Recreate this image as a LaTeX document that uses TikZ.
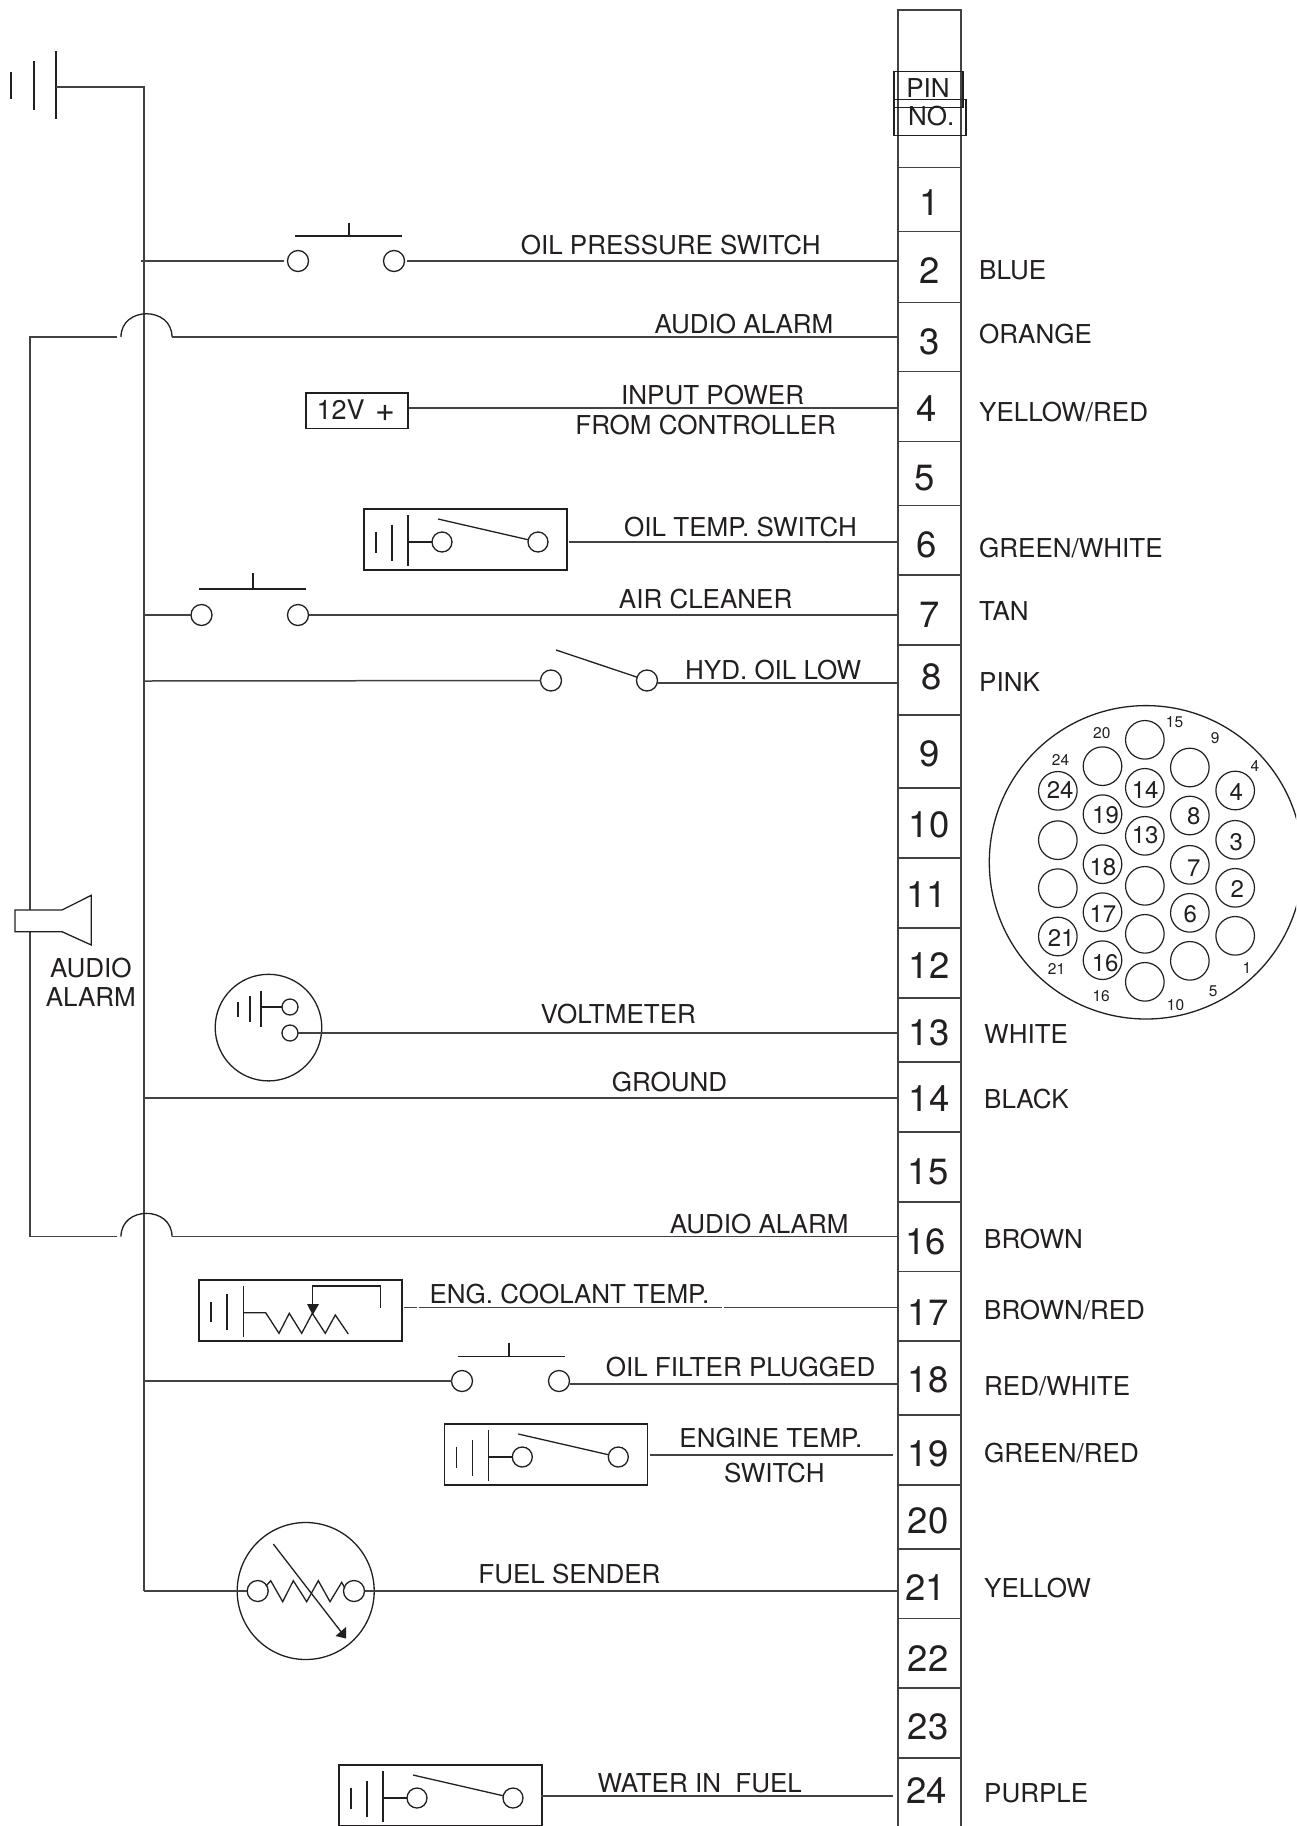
\documentclass[tikz,border=0pt]{standalone}
\usepackage{fontspec}
\setmainfont{TeX Gyre Heros}
\usetikzlibrary{arrows.meta}
\definecolor{ink}{HTML}{231F20}
\tikzset{
  wire/.style={line width=1.5pt,draw=ink!85},
  thin wire/.style={line width=1.3pt,draw=ink},
  term/.style={circle,draw=ink,line width=1.3pt,fill=white,minimum size=21pt,inner sep=0pt,outer sep=0pt},
  pincell/.style={rectangle,draw=ink!85,line width=1.5pt,minimum width=63pt,inner sep=0pt,outer sep=0pt},
  lab/.style={anchor=base,inner sep=0pt,text=ink,font=\fontsize{26}{26}\selectfont},
  collab/.style={anchor=base west,inner sep=0pt,text=ink,font=\fontsize{26}{26}\selectfont},
  numlab/.style={anchor=base,inner sep=0pt,text=ink,font=\fontsize{36.5}{36.5}\selectfont},
  connpin/.style={circle,draw=ink,line width=1.2pt,minimum size=38.6pt,inner sep=0pt,outer sep=0pt},
  pintext/.style={anchor=center,inner sep=0pt,text=ink,font=\fontsize{24}{24}\selectfont},
  tiny/.style={anchor=center,inner sep=0pt,text=ink,font=\fontsize{15.5}{15.5}\selectfont},
  compbox/.style={rectangle,draw=ink,line width=1.5pt,minimum width=203pt,minimum height=61pt,inner sep=0pt,outer sep=0pt},
  boxl/.style={rectangle,draw=ink,line width=1.2pt,inner sep=0pt,outer sep=0pt},
}
\newcommand{\pincellat}[3]{\node[pincell,minimum height={(#3-#2)*1pt}] (p#1) at (929.5,{(#2+#3)/2}) {};}
\newcommand{\pinnum}[3]{\node[numlab] (n#1) at ({#2*1.1644},{#3*1.1644+13}) {#1};}
\newcommand{\wlab}[4]{\node[lab] (#1) at ({#2*1.1644},{#3*1.1644+9.5}) {#4};}
\newcommand{\clab}[4]{\node[collab] (#1) at (#2,{#3+9.5}) {#4};}
\newcommand{\cpin}[6]{\node[connpin] (c#1) at ({961.5+#2/3},{680.5+#3/3}) {};
  \node[pintext] (ct#1) at ({961.5+#4/3},{680.5+#5/3}) {#6};}
\newcommand{\cblank}[3]{\node[connpin] (c#1) at ({961.5+#2/3},{680.5+#3/3}) {};}
\newcommand{\ctiny}[4]{\node[tiny] (ctn#1) at ({961.5+#2/3},{680.5+#3/3}) {#4};}
\newcommand{\batt}[2]{\draw[thin wire] ({#1},{#2-10.5}) -- ({#1},{#2+10.5});
  \draw[thin wire] ({#1+16},{#2-17.5}) -- ({#1+16},{#2+18.5});
  \draw[thin wire] ({#1+32},{#2-27}) -- ({#1+32},{#2+24});}
\newcommand{\tempsw}[3]{%
  \node[compbox] (#1box) at ({465.5+#2},{539.5+#3}) {};
  \batt{376+#2}{542+#3}
  \node[term,minimum size=20pt] (#1a) at ({442+#2},{542+#3}) {};
  \node[term,minimum size=20pt] (#1b) at ({538+#2},{542+#3}) {};
  \draw[thin wire] ({408+#2},{542+#3}) -- (#1a);
  \draw[thin wire] ({438+#2},{519+#3}) -- (#1b);
}
\begin{document}
\begin{tikzpicture}[x=1pt,y=-1pt]
\useasboundingbox (0,0) rectangle (1296,1826);
\clip (0,0) rectangle (1296,1826);
\fill[white] (0,0) rectangle (1296,1826);

% --- pin strip
\node[pincell,minimum height=157.7pt] (ptop) at (929.5,88.85) {};
\pincellat{1}{167.7}{231.7}
\pincellat{2}{231.7}{302.7}
\pincellat{3}{302.7}{371.4}
\pincellat{4}{371.4}{441.3}
\pincellat{5}{441.3}{505.3}
\pincellat{6}{505.3}{575.2}
\pincellat{7}{575.2}{645}
\pincellat{8}{645}{715}
\pincellat{9}{715}{788}
\pincellat{10}{788}{858}
\pincellat{11}{858}{928}
\pincellat{12}{928}{998}
\pincellat{13}{998}{1062}
\pincellat{14}{1062}{1132}
\pincellat{15}{1132}{1202}
\pincellat{16}{1202}{1271.5}
\pincellat{17}{1271.5}{1341}
\pincellat{18}{1341}{1415}
\pincellat{19}{1415}{1485}
\pincellat{20}{1485}{1549}
\pincellat{21}{1549}{1618.5}
\pincellat{22}{1618.5}{1688}
\pincellat{23}{1688}{1758}
\pincellat{24}{1758}{1840}

\node[boxl,minimum width=69pt,minimum height=36pt] (pinbox) at (928.5,89.7) {};
\node[boxl,minimum width=72pt,minimum height=36pt] (nobox) at (930,117.3) {};
\node[lab] (pinlab) at (928,97.7) {PIN};
\node[lab,anchor=base west] (nolab) at (908,125) {NO.};

\pinnum{1}{798}{174}\pinnum{2}{798}{232}\pinnum{3}{798}{293}\pinnum{4}{796}{351}
\pinnum{5}{794}{410}\pinnum{6}{796}{468}\pinnum{7}{798}{528}\pinnum{8}{800}{581}
\pinnum{9}{798}{647}\pinnum{10}{798}{708}\pinnum{11}{796}{768}\pinnum{12}{798}{829}
\pinnum{13}{798}{887}\pinnum{14}{798}{943}\pinnum{15}{797}{1006}\pinnum{16}{795}{1066}
\pinnum{17}{797}{1127}\pinnum{18}{797}{1185}\pinnum{19}{797}{1248}\pinnum{20}{797}{1306}
\pinnum{21}{795}{1363}\pinnum{22}{797}{1424}\pinnum{23}{797}{1483}\pinnum{24}{796}{1538}

% --- colour labels
\clab{cBlue}{979}{270}{BLUE}
\clab{cOrange}{979}{334}{ORANGE}
\clab{cYelRed}{979}{412}{YELLOW/RED}
\clab{cGrnWht}{979}{548}{GREEN/WHITE}
\clab{cTan}{979}{611}{TAN}
\clab{cPink}{979}{682}{PINK}
\clab{cWhite}{984}{1034}{WHITE}
\clab{cBlack}{984}{1099}{BLACK}
\clab{cBrown}{984}{1239}{BROWN}
\clab{cBrnRed}{984}{1310}{BROWN/RED}
\clab{cRedWht}{984}{1386}{RED/WHITE}
\clab{cGrnRed}{984}{1453}{GREEN/RED}
\clab{cYellow}{984}{1588}{YELLOW}
\clab{cPurple}{984}{1793}{PURPLE}

% --- battery and bus
\draw[thin wire] (11,72) -- (11,99);
\draw[thin wire] (34,61) -- (34,110);
\draw[thin wire] (56,51) -- (56,119);
\coordinate (gnd) at (56,87);
\coordinate (busT) at (144,87);
\coordinate (busB) at (144,1591);
\draw[wire] (gnd) -- (busT) -- (busB);

% --- row 2: oil pressure switch
\node[term] (s2a) at (298,261) {};
\node[term] (s2b) at (394,261) {};
\coordinate (s2btop) at (295,236);
\coordinate (s2bar) at (402,236);
\coordinate (s2stub) at (349,223);
\draw[thin wire] (s2btop) -- (s2bar);
\draw[thin wire] (s2stub) -- (s2stub |- s2bar);
\coordinate (b2) at (141,261);
\draw[wire,shorten >=4pt] (b2) -- (s2a);
\draw[wire,shorten <=2.5pt] (s2b) -- (s2b -| p2.west);
\wlab{l2}{576}{210}{OIL PRESSURE SWITCH}

% --- row 3: audio alarm hop, left return
\coordinate (a3) at (30,337);
\coordinate (a16) at (30,1236.6);
\coordinate (h3a) at (117,337);
\coordinate (h3b) at (121,337);
\coordinate (h3c) at (172,337);
\draw[wire] (h3a) -- (a3) -- (a16);
\draw[thin wire] (h3b) .. controls (121,306) and (172,306) .. (h3c);
\draw[wire] (h3c) -- (h3c -| p3.west);
\wlab{l3}{639}{278}{AUDIO ALARM}

% --- row 4
\node[boxl,minimum width=102pt,minimum height=35.5pt] (v12) at (357,410.7) {};
\node[lab,font=\fontsize{27}{27}\selectfont] (v12t) at (356,419.5) {12V\hspace{.4em}{\fontsize{34}{34}\selectfont\raisebox{-1.5pt}{+}}};
\coordinate (w4) at (409,408);
\draw[wire] (w4) -- (w4 -| p4.west);
\wlab{l4a}{612}{339}{INPUT POWER}
\wlab{l4b}{606}{365}{FROM CONTROLLER}

% --- row 6
\tempsw{s6}{0}{0}
\coordinate (w6) at (569,542);
\draw[wire] (w6) -- (w6 -| p6.west);
\wlab{l6}{636}{453}{OIL TEMP. SWITCH}

% --- row 7
\node[term] (s7a) at (201.5,615) {};
\node[term] (s7b) at (298,615) {};
\coordinate (s7l) at (199,589);
\coordinate (s7r) at (306,589);
\coordinate (s7s) at (253,573);
\draw[thin wire] (s7l) -- (s7r);
\draw[thin wire] (s7s) -- (s7s |- s7r);
\coordinate (b7) at (144,615);
\draw[wire] (b7) -- (s7a);
\draw[wire] (s7b) -- (s7b -| p7.west);
\wlab{l7}{606}{514}{AIR CLEANER}

% --- row 8
\node[term] (s8a) at (551,680.5) {};
\node[term] (s8b) at (647,680.5) {};
\coordinate (s8t) at (556,650);
\coordinate (b8) at (144,681);
\coordinate (w8) at (657,683);
\draw[thin wire] (s8t) -- (s8b);
\draw[wire] (b8) -- (s8a);
\draw[wire] (w8) -- (w8 -| p8.west);
\wlab{l8}{664}{575}{HYD. OIL LOW}

% --- row 13: voltmeter
\node[circle,draw=ink,line width=1.3pt,minimum size=106.6pt,inner sep=0pt] (vm) at (268.5,1027.6) {};
\draw[thin wire] (238,1002) -- (238,1017);
\draw[thin wire] (250,996) -- (250,1022);
\draw[thin wire] (261,991) -- (261,1027);
\node[term,minimum size=16pt] (vma) at (290,1007) {};
\node[term,minimum size=16pt] (vmb) at (290,1033) {};
\coordinate (vmg) at (261,1007);
\draw[thin wire] (vmg) -- (vma);
\draw[wire] (vmb) -- (vmb -| p13.west);
\wlab{l13}{531}{871}{VOLTMETER}

% --- row 14
\coordinate (b14) at (144,1098);
\draw[wire] (b14) -- (b14 -| p14.west);
\wlab{l14}{575}{929}{GROUND}

% --- row 16
\coordinate (h16a) at (117,1236.6);
\coordinate (h16b) at (121,1236.6);
\coordinate (h16c) at (172,1236.6);
\draw[wire] (a16) -- (h16a);
\draw[thin wire] (h16b) .. controls (121,1205.6) and (172,1205.6) .. (h16c);
\draw[wire] (h16c) -- (h16c -| p16.west);
\wlab{l16}{652}{1051}{AUDIO ALARM}

% --- row 17: coolant temp
\node[compbox] (s17box) at (300.5,1310.5) {};
\draw[thin wire] (211,1302) -- (211,1322);
\draw[thin wire] (227,1294) -- (227,1330);
\draw[thin wire] (243.6,1286) -- (243.6,1337);
\draw[thin wire] (243.6,1312.7) -- (265.7,1312.7) -- (279,1333.3) -- (289.3,1313.3) -- (301.7,1333.3) -- (312.3,1313.3) -- (325.3,1333.3) -- (335.3,1315) -- (348.3,1334);
\draw[thin wire] (380.7,1308) -- (380.7,1286) -- (312.7,1286) -- (312.7,1305);
\fill[ink] (307,1304) -- (319,1304) -- (312.7,1315) -- cycle;
\coordinate (w17a) at (404,1307.7);
\coordinate (w17b) at (416.5,1307.7);
\coordinate (w17c) at (418.5,1307.7);
\coordinate (w17d) at (721.7,1307.7);
\coordinate (w17e) at (723.7,1307.7);
\draw[wire] (w17a) -- (w17b);
\draw[wire] (w17c) -- (w17d);
\draw[wire] (w17e) -- (w17e -| p17.west);
\wlab{l17}{489}{1111}{ENG. COOLANT TEMP.}

% --- row 18
\node[term] (s18a) at (462,1381) {};
\node[term] (s18b) at (559,1381) {};
\coordinate (s18l) at (457.6,1356.5);
\coordinate (s18r) at (565,1356.5);
\coordinate (s18s) at (509,1342.5);
\draw[thin wire] (s18l) -- (s18r);
\draw[thin wire] (s18s) -- (s18s |- s18r);
\coordinate (b18) at (144,1381);
\coordinate (w18) at (569.5,1384);
\draw[wire] (b18) -- (s18a);
\draw[wire] (w18) -- (w18 -| p18.west);
\wlab{l18}{636}{1174}{OIL FILTER PLUGGED}

% --- row 19
\tempsw{s19}{80.3}{915}
\coordinate (w19) at (650,1455);
\coordinate (w19e) at (893,1455);
\draw[wire] (w19) -- (w19e);
\wlab{l19a}{662}{1235}{ENGINE TEMP.}
\wlab{l19b}{665}{1265}{SWITCH}

% --- row 21: fuel sender
\node[circle,draw=ink,line width=1.3pt,minimum size=137pt,inner sep=0pt] (fs) at (305.7,1591) {};
\node[term] (fsa) at (257.7,1591) {};
\node[term] (fsb) at (354,1591) {};
\coordinate (b21) at (144,1591);
\draw[wire] (b21) -- (fsa);
\draw[wire] (fsb) -- (fsb -| p21.west);
\draw[thin wire] (266,1586) -- (270.7,1580.7) -- (282.7,1601.7) -- (293.3,1580.7) -- (306.7,1601.7) -- (318.3,1580.7) -- (330,1601.7) -- (341.7,1582.3) -- (345,1588.3);
\draw[thin wire] (273.3,1544) -- (342,1633);
\fill[ink] (346,1638.5) -- (335.5,1636) -- (346,1627) -- cycle;
\wlab{l21}{489}{1352}{FUEL SENDER}

% --- row 24
\tempsw{s24}{-25}{1256}
\coordinate (w24) at (541,1796);
\coordinate (w24e) at (893,1796);
\draw[wire] (w24) -- (w24e);
\wlab{l24}{601}{1531}{WATER IN\ \ FUEL}

% --- speaker
\draw[thin wire,fill=white] (62,910) -- (15,910) -- (15,931.7) -- (62,931.7) -- (91.3,945) -- (91.3,895.3) -- cycle;
\wlab{la}{78}{831}{AUDIO}
\wlab{lb}{78}{856}{ALARM}

% --- connector face
\node[circle,draw=ink,line width=1.3pt,minimum size=313.4pt,inner sep=0pt] (conn) at (1146,862.3) {};
\cblank{15}{550}{178}
\cblank{9}{685}{261}
\cpin{4}{821}{330}{824}{333}{4}
\cpin{3}{821}{478}{824}{485}{3}
\cpin{2}{821}{622}{827}{625}{2}
\cblank{1}{821}{766}
\cblank{5}{685}{841}
\cblank{10}{550}{904}
\cpin{14}{550}{322}{551}{327}{14}
\cpin{8}{685}{405}{697}{408}{8}
\cpin{7}{685}{553}{697}{563}{7}
\cpin{6}{685}{697}{686}{700}{6}
\cpin{13}{550}{466}{551}{465}{13}
\cblank{b1}{550}{616}
\cblank{b2}{550}{760}
\cblank{20}{423}{257}
\cpin{19}{423}{401}{432}{403}{19}
\cpin{18}{423}{551}{424}{560}{18}
\cpin{17}{423}{695}{424}{699}{17}
\cpin{16}{423}{839}{431}{849}{16}
\cpin{24}{289}{331}{296}{329}{24}
\cblank{b3}{289}{479}
\cblank{b4}{289}{623}
\cpin{21}{289}{768}{299}{773}{21}
\ctiny{15}{639}{125}{15}
\ctiny{9}{761}{173}{9}
\ctiny{4}{880}{255}{4}
\ctiny{20}{421}{157}{20}
\ctiny{24}{297}{238}{24}
\ctiny{21}{285}{866}{21}
\ctiny{16}{419}{948}{16}
\ctiny{10}{642}{973}{10}
\ctiny{5}{755}{932}{5}
\ctiny{1}{856}{863}{1}
\end{tikzpicture}
\end{document}
